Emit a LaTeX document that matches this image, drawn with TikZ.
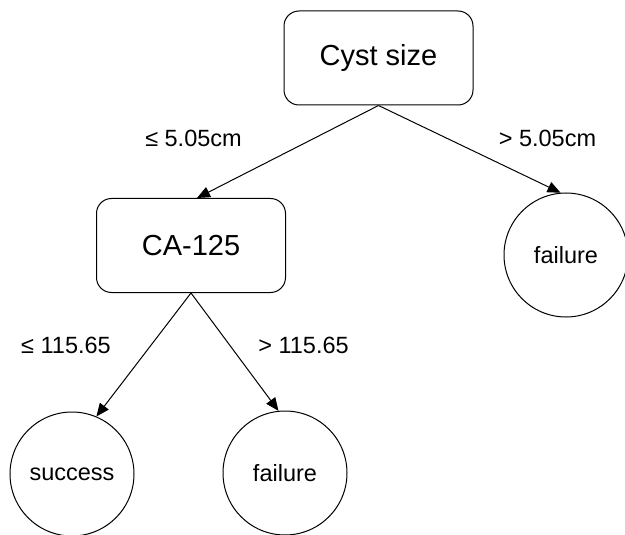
\documentclass[tikz,border=0pt]{standalone}
\usepackage{fontspec}
\setmainfont{Liberation Sans}
\usetikzlibrary{arrows.meta}
\begin{document}
\begin{tikzpicture}[x=1pt,y=-1pt,
  box/.style={draw, line width=1pt, rounded corners=15pt, minimum width=189pt, minimum height=94pt, inner sep=0pt, font=\fontsize{29}{34}\selectfont},
  leaf/.style={draw, circle, line width=1pt, minimum size=124pt, inner sep=0pt, font=\fontsize{23.5}{28}\selectfont},
  lbl/.style={font=\fontsize{23.5}{28}\selectfont, inner sep=0pt},
  edge/.style={line width=1pt, -{Triangle[length=13pt,width=11pt]}}]
\useasboundingbox (0,0) rectangle (625,535);
\node[box] (root) at (378.5,58) {Cyst size};
\node[box] (ca) at (191,245.5) {CA-125};
\node[leaf] (f1) at (566,255) {failure};
\node[leaf] (s) at (72,474) {success};
\node[leaf] (f2) at (285,473) {failure};
\coordinate (catop) at ([xshift=6pt]ca.north);
\draw[edge] (root.south) -- (catop);
\draw[edge] (root.south) -- (f1.95);
\draw[edge] (ca.south) -- (s.67);
\draw[edge] (ca.south) -- (f2.96);
\node[lbl] (l1) at (193.5,138) {≤ 5.05cm};
\node[lbl] (l2) at (547.5,138) {> 5.05cm};
\node[lbl] (l3) at (66,345) {≤ 115.65};
\node[lbl] (l4) at (303.5,345) {> 115.65};
\end{tikzpicture}
\end{document}
